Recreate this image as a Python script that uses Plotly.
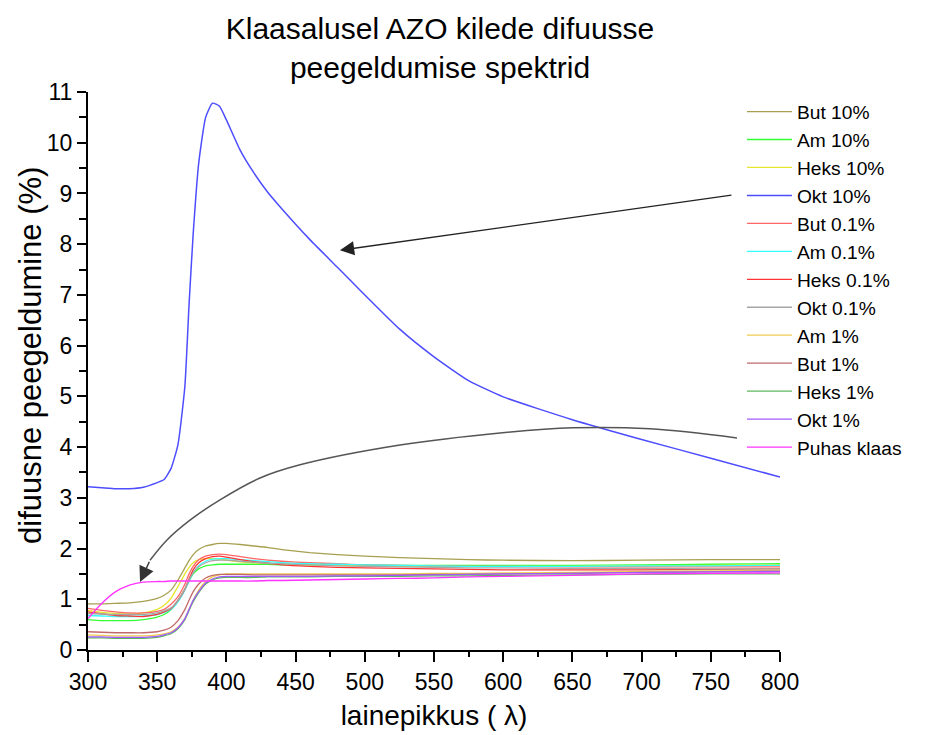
import plotly.graph_objects as go

# Wavelength grid (nm)
wavelength = [300, 310, 320, 330, 340, 350, 355, 360, 365, 370, 373, 376, 380, 385, 390, 395,
              400, 410, 420, 430, 440, 460, 480, 500, 525, 550, 575, 600, 650, 700, 750, 800]

but_10 = [0.91, 0.91, 0.92, 0.93, 0.96, 1.02, 1.08, 1.18, 1.38, 1.62, 1.76, 1.88, 1.98, 2.05, 2.08, 2.10,
          2.10, 2.08, 2.05, 2.02, 1.98, 1.92, 1.88, 1.85, 1.82, 1.80, 1.78, 1.77, 1.76, 1.77, 1.78, 1.78]
am_10 = [0.60, 0.58, 0.58, 0.58, 0.60, 0.65, 0.70, 0.80, 0.98, 1.20, 1.36, 1.50, 1.60, 1.66, 1.68, 1.69,
         1.69, 1.69, 1.69, 1.69, 1.68, 1.68, 1.68, 1.68, 1.67, 1.67, 1.67, 1.67, 1.67, 1.68, 1.69, 1.70]
heks_10 = [0.78, 0.74, 0.72, 0.71, 0.73, 0.80, 0.88, 1.02, 1.25, 1.50, 1.63, 1.72, 1.78, 1.80, 1.80, 1.79,
           1.77, 1.74, 1.72, 1.71, 1.70, 1.68, 1.67, 1.66, 1.65, 1.65, 1.65, 1.65, 1.65, 1.66, 1.67, 1.68]
okt_10 = [3.22, 3.20, 3.18, 3.18, 3.21, 3.30, 3.36, 3.58, 4.05, 5.20, 6.80, 8.20, 9.60, 10.50, 10.78, 10.72,
          10.45, 9.85, 9.40, 9.02, 8.70, 8.10, 7.55, 7.00, 6.33, 5.78, 5.31, 4.99, 4.54, 4.15, 3.78, 3.41]
but_01 = [0.82, 0.78, 0.75, 0.73, 0.73, 0.76, 0.80, 0.90, 1.05, 1.30, 1.50, 1.65, 1.78, 1.85, 1.88, 1.89,
          1.88, 1.84, 1.80, 1.77, 1.75, 1.72, 1.70, 1.68, 1.67, 1.66, 1.65, 1.65, 1.64, 1.64, 1.64, 1.64]
am_01 = [0.68, 0.67, 0.66, 0.66, 0.67, 0.70, 0.74, 0.80, 0.95, 1.18, 1.36, 1.52, 1.66, 1.75, 1.79, 1.80,
         1.80, 1.78, 1.76, 1.74, 1.72, 1.70, 1.69, 1.68, 1.67, 1.66, 1.65, 1.65, 1.65, 1.66, 1.66, 1.67]
heks_01 = [0.75, 0.71, 0.68, 0.67, 0.66, 0.70, 0.75, 0.82, 0.98, 1.20, 1.40, 1.58, 1.72, 1.80, 1.84, 1.85,
           1.83, 1.78, 1.74, 1.71, 1.68, 1.65, 1.63, 1.62, 1.61, 1.60, 1.59, 1.58, 1.58, 1.58, 1.59, 1.60]
okt_01 = [0.72, 0.71, 0.70, 0.70, 0.70, 0.73, 0.77, 0.83, 0.98, 1.20, 1.38, 1.52, 1.64, 1.72, 1.76, 1.77,
          1.77, 1.75, 1.73, 1.71, 1.70, 1.68, 1.66, 1.65, 1.64, 1.63, 1.62, 1.62, 1.61, 1.61, 1.60, 1.60]
am_1 = [0.30, 0.29, 0.28, 0.28, 0.28, 0.30, 0.32, 0.36, 0.45, 0.62, 0.80, 0.98, 1.18, 1.35, 1.44, 1.48,
        1.50, 1.50, 1.50, 1.50, 1.50, 1.50, 1.50, 1.50, 1.50, 1.51, 1.51, 1.52, 1.53, 1.55, 1.56, 1.57]
but_1 = [0.36, 0.35, 0.34, 0.34, 0.34, 0.36, 0.39, 0.45, 0.58, 0.80, 0.98, 1.15, 1.30, 1.42, 1.47, 1.49,
         1.49, 1.49, 1.48, 1.48, 1.48, 1.48, 1.48, 1.48, 1.48, 1.49, 1.49, 1.50, 1.51, 1.53, 1.54, 1.55]
heks_1 = [0.24, 0.24, 0.23, 0.23, 0.23, 0.25, 0.28, 0.32, 0.42, 0.60, 0.78, 0.95, 1.13, 1.30, 1.38, 1.42,
          1.43, 1.43, 1.43, 1.44, 1.44, 1.44, 1.45, 1.45, 1.45, 1.46, 1.46, 1.47, 1.48, 1.49, 1.50, 1.50]
okt_1 = [0.26, 0.26, 0.25, 0.25, 0.25, 0.27, 0.30, 0.34, 0.44, 0.62, 0.80, 0.98, 1.15, 1.32, 1.40, 1.44,
         1.45, 1.45, 1.45, 1.45, 1.45, 1.45, 1.46, 1.46, 1.47, 1.48, 1.49, 1.50, 1.51, 1.53, 1.54, 1.55]
puhas_klaas = [0.62, 0.92, 1.15, 1.28, 1.34, 1.35, 1.35, 1.36, 1.36, 1.36, 1.36, 1.36, 1.36, 1.36, 1.36, 1.36,
               1.36, 1.36, 1.36, 1.37, 1.37, 1.38, 1.39, 1.40, 1.41, 1.42, 1.44, 1.45, 1.47, 1.50, 1.51, 1.52]

series_names = ["But 10%", "Am 10%", "Heks 10%", "Okt 10%", "But 0.1%", "Am 0.1%", "Heks 0.1%",
                "Okt 0.1%", "Am 1%", "But 1%", "Heks 1%", "Okt 1%", "Puhas klaas"]
series_values = [but_10, am_10, heks_10, okt_10, but_01, am_01, heks_01, okt_01, am_1, but_1, heks_1, okt_1,
                 puhas_klaas]
series_colors = ["#a8a050", "#33ff33", "#e6e62e", "#4d4dff", "#ff6666", "#33ffff", "#ff3333", "#a6a6a6",
                 "#f0cc50", "#c06a6a", "#5cb85c", "#a05aff", "#ff33ff"]

# Annotation arrows (data coordinates)
arrow1_tail = (766, 8.97)
arrow1_tip = (482, 7.88)
arrow2_curve_x = [768.9, 706.1, 650.4, 597.7, 525.4, 453.2, 424.3, 395.4, 373.7, 357.1, 344.8]
arrow2_curve_y = [4.18, 4.36, 4.38, 4.28, 4.04, 3.65, 3.39, 2.96, 2.56, 2.17, 1.77]
arrow2_tip = (337.6, 1.34)

FONT = "Liberation Sans, Arial, sans-serif"

fig = go.Figure()
for i, (name, vals, col) in enumerate(zip(series_names, series_values, series_colors)):
    fig.add_trace(go.Scatter(x=wavelength, y=vals, mode="lines", name=name,
                             line=dict(color=col, width=1.5 if name == "Okt 10%" else 1.3,
                                       shape="spline", smoothing=0.5),
                             legendgroup=f"g{i}"))

fig.add_trace(go.Scatter(x=arrow2_curve_x, y=arrow2_curve_y, mode="lines", showlegend=False,
                         hoverinfo="skip", line=dict(color="#555555", width=1.5, shape="spline")))

fig.add_annotation(x=arrow1_tip[0], y=arrow1_tip[1], ax=arrow1_tail[0], ay=arrow1_tail[1],
                   xref="x", yref="y", axref="x", ayref="y", text="", showarrow=True,
                   arrowhead=2, arrowsize=2.2, arrowwidth=1.3, arrowcolor="#222222")
fig.add_annotation(x=arrow2_tip[0], y=arrow2_tip[1], ax=arrow2_curve_x[-1], ay=arrow2_curve_y[-1],
                   xref="x", yref="y", axref="x", ayref="y", text="", showarrow=True,
                   arrowhead=2, arrowsize=2.2, arrowwidth=1.4, arrowcolor="#333333")

# Y-axis title (placed as rotated text, slightly above the axis centre as in the original)
fig.add_annotation(text="difuusne peegeldumine (%)", textangle=-90, showarrow=False,
                   xref="paper", yref="paper", x=-(88 - 30) / 692, y=(650 - 356) / 558,
                   xanchor="center", yanchor="middle", font=dict(size=31, family=FONT, color="black"))

fig.update_layout(
    width=927, height=735,
    paper_bgcolor="white", plot_bgcolor="white",
    margin=dict(l=88, r=147, t=92, b=85, autoexpand=False),
    font=dict(family=FONT, color="black"),
    title=dict(text="Klaasalusel AZO kilede difuusse<br>peegeldumise spektrid",
               font=dict(size=30, family=FONT, color="black"),
               x=440 / 927, xanchor="center", xref="container",
               y=1 - 39 / 735, yanchor="middle", yref="container"),
    xaxis=dict(range=[300, 800], tickvals=[300, 350, 400, 450, 500, 550, 600, 650, 700, 750, 800],
               ticks="outside", ticklen=10, tickwidth=2, tickcolor="black",
               minor=dict(dtick=25, tick0=300, ticks="outside", ticklen=5, tickwidth=2, tickcolor="black"),
               showline=True, linecolor="black", linewidth=2, showgrid=False, zeroline=False,
               tickfont=dict(size=23, family=FONT),
               title=dict(text="lainepikkus ( λ)", font=dict(size=28, family=FONT), standoff=12)),
    yaxis=dict(range=[0, 11], tickvals=list(range(0, 12)),
               ticks="outside", ticklen=9, tickwidth=2, tickcolor="black",
               minor=dict(dtick=0.5, tick0=0, ticks="outside", ticklen=7, tickwidth=2, tickcolor="black"),
               showline=True, linecolor="black", linewidth=2, showgrid=False, zeroline=False,
               tickfont=dict(size=23, family=FONT)),
    legend=dict(x=0.945, y=0.999, xanchor="left", yanchor="top", bgcolor="rgba(0,0,0,0)",
                font=dict(size=19.2, family=FONT), itemwidth=45, tracegroupgap=0,
                borderwidth=0),
    showlegend=True,
)

fig.write_html("out.html")
